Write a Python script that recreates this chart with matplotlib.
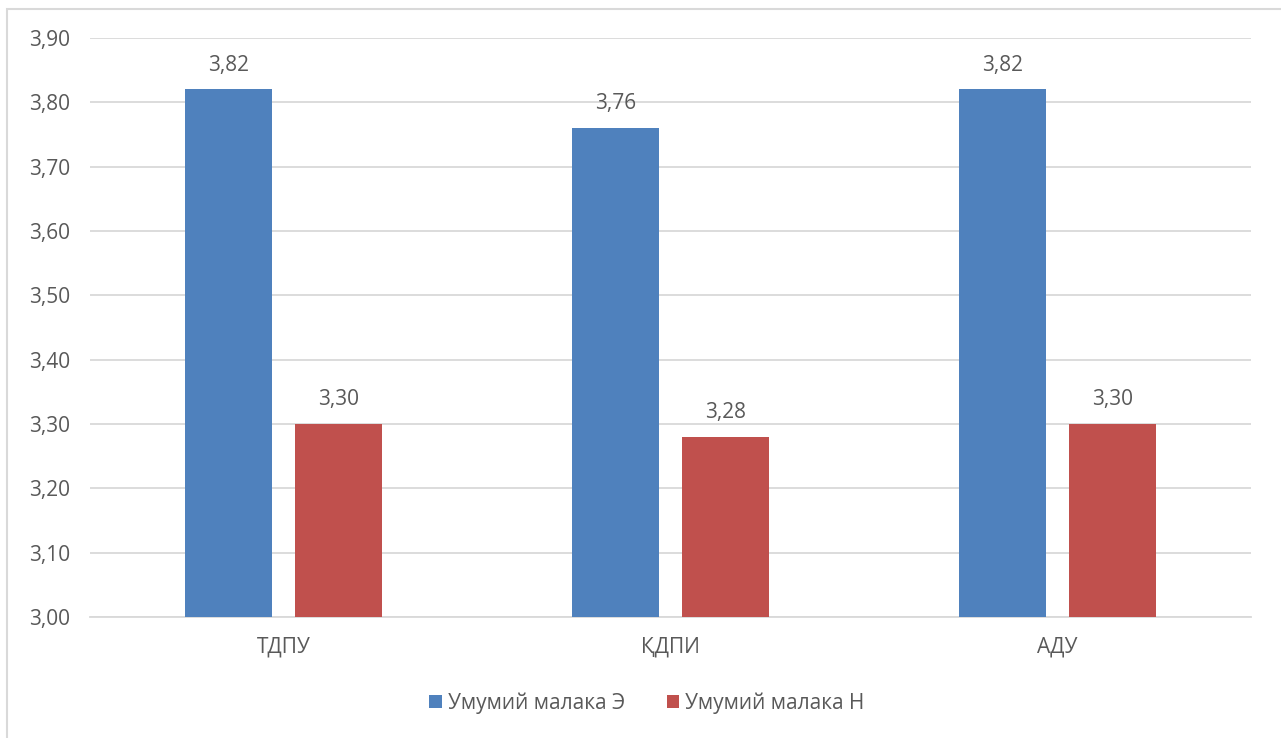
import matplotlib
matplotlib.use("Agg")
import matplotlib.pyplot as plt
from matplotlib.patches import Rectangle
import numpy as np

categories = ["ТДПУ", "ҚДПИ", "АДУ"]
series_names = ["Умумий малака Э", "Умумий малака Н"]
values_e = [3.82, 3.76, 3.82]
values_n = [3.30, 3.28, 3.30]
yticks = [3.00, 3.10, 3.20, 3.30, 3.40, 3.50, 3.60, 3.70, 3.80, 3.90]

BLUE = "#4F81BD"
RED = "#C0504D"
TXT = "#595959"
GRID = "#D9D9D9"
FS = 15

plt.rcParams['font.family'] = ['Open Sans', 'DejaVu Sans']

fig = plt.figure(figsize=(12.81, 7.38), dpi=100)
W, H = 1281, 738
ax = fig.add_axes([90 / W, 1 - 617 / H, (1251 - 90) / W, (617 - 38) / H])

x = np.arange(len(categories))
bw = 0.225
off = 0.142
b1 = ax.bar(x - off, [v - 3.0 for v in values_e], bw, bottom=3.0, color=BLUE,
            label=series_names[0], zorder=3)
b2 = ax.bar(x + off, [v - 3.0 for v in values_n], bw, bottom=3.0, color=RED,
            label=series_names[1], zorder=3)

for xs, vals in ((x - off, values_e), (x + off, values_n)):
    for xi, v in zip(xs, vals):
        ax.annotate(f"{v:.2f}".replace(".", ","), (xi, v), xytext=(0, 10),
                    textcoords="offset points", ha="center", va="bottom",
                    fontsize=FS, color=TXT)

ax.set_xlim(-0.5, 2.5)
ax.set_ylim(3.0, 3.9)
ax.set_yticks(yticks)
ax.set_yticklabels([f"{t:.2f}".replace(".", ",") for t in yticks])
ax.set_xticks(x)
ax.set_xticklabels(categories)
ax.tick_params(axis="both", length=0, colors=TXT, labelsize=FS)
ax.tick_params(axis="y", pad=14)
ax.tick_params(axis="x", pad=14)
ax.grid(axis="y", color=GRID, linewidth=1.3, zorder=0)
for s in ["top", "right", "left"]:
    ax.spines[s].set_visible(False)
ax.spines["bottom"].set_color(GRID)
ax.spines["bottom"].set_linewidth(1.3)

leg = fig.legend(handles=[b1, b2], labels=series_names, loc="center",
                 bbox_to_anchor=(647 / W, 1 - 703 / H), ncol=2, frameon=False,
                 fontsize=FS, handlelength=0.6, handleheight=0.6,
                 handletextpad=0.3, columnspacing=2.0, labelcolor=TXT)

fig.patches.append(Rectangle((7 / W, -0.01), 1.2, 1 - 9 / H + 0.01,
                             transform=fig.transFigure, fill=False,
                             edgecolor="#D9D9D9", linewidth=1.5))

fig.savefig("out.png", dpi=100, facecolor="white")
